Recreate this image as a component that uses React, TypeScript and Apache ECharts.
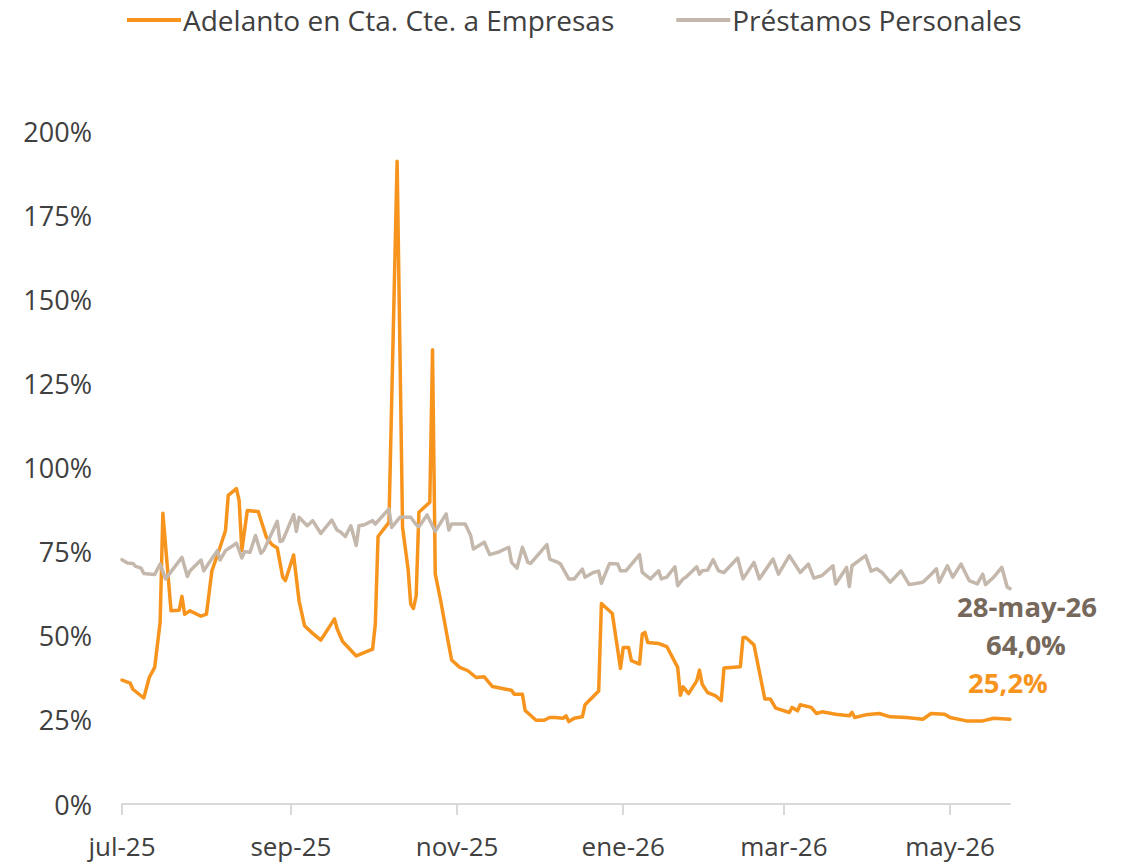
import React, { useEffect, useRef } from "react";
import * as echarts from "echarts";

// Daily calendar axis: 1-jul-25 .. last plotted day
const START = { y: 2025, m: 6, d: 1 };
const DAY_COUNT = 327;
const MESES = ["ene", "feb", "mar", "abr", "may", "jun", "jul", "ago", "sep", "oct", "nov", "dic"];
const TICK_MONTHS = [6, 8, 10, 0, 2, 4]; // jul, sep, nov, ene, mar, may

const SERIES_NAMES = ["Adelanto en Cta. Cte. a Empresas", "Préstamos Personales"];

// Adelanto en Cta. Cte. a Empresas: day offset from 1-jul-25, rate (%)
const adelantoDays = [
  0, 3, 4, 8, 10, 12, 14, 15, 18, 21, 22, 23, 25, 29, 31, 33, 36, 38, 39, 42, 43, 44, 46, 50, 53, 55, 57, 59, 60,
  63, 65, 67, 70, 73, 78, 79, 81, 86, 92, 93, 94, 98, 101, 103, 105, 106, 107, 108, 109, 113, 114, 115, 117, 119,
  121, 124, 127, 130, 133, 136, 141, 143, 144, 147, 148, 152, 155, 157, 159, 162, 163, 164, 166, 169, 170, 175,
  176, 180, 183, 184, 186, 187, 190, 191, 192, 193, 197, 200, 204, 205, 206, 208, 211, 212, 213, 215, 218, 220,
  221, 227, 228, 229, 232, 236, 238, 240, 245, 246, 248, 249, 253, 255, 257, 262, 267, 268, 269, 273, 278, 282,
  288, 294, 297, 302, 304, 310, 316, 320, 326,
];
const adelantoVals = [
  36.8, 35.9, 34.1, 31.5, 37.6, 40.6, 54.0, 86.4, 57.4, 57.6, 61.7, 56.4, 57.4, 55.8, 56.4, 69.3, 76.3, 81.3, 91.7,
  93.7, 90.2, 75.3, 87.2, 86.9, 79.3, 77.1, 76.1, 67.4, 66.4, 74.0, 60.4, 53.0, 50.7, 48.7, 55.0, 52.0, 48.3, 44.0,
  46.0, 53.5, 79.5, 83.7, 191.0, 82.2, 70.0, 59.4, 58.1, 61.9, 86.7, 89.7, 135.0, 68.4, 60.4, 51.5, 42.8, 40.6,
  39.6, 37.6, 37.8, 34.9, 34.1, 33.8, 32.6, 32.6, 27.8, 24.9, 24.9, 25.7, 25.7, 25.5, 26.2, 24.5, 25.5, 25.9,
  29.5, 33.6, 59.6, 56.6, 40.3, 46.5, 46.5, 42.6, 41.6, 50.5, 51.0, 48.0, 47.7, 46.8, 40.6, 32.3, 34.8, 32.8,
  36.6, 39.8, 35.6, 33.1, 32.1, 30.7, 40.4, 40.8, 49.5, 49.5, 47.3, 31.2, 31.2, 28.5, 27.2, 28.7, 27.7, 29.5,
  28.7, 26.9, 27.4, 26.7, 26.2, 27.2, 25.7, 26.5, 26.9, 25.9, 25.7, 25.2, 26.9, 26.7, 25.7, 24.7, 24.7, 25.5, 25.2,
];

// Préstamos Personales: day offset from 1-jul-25, rate (%)
const personalesDays = [
  0, 2, 4, 5, 7, 8, 12, 14, 16, 22, 24, 25, 29, 30, 35, 36, 38, 42, 44, 45, 47, 49, 51, 52, 57, 58, 59, 63, 64, 65,
  68, 70, 73, 77, 79, 80, 82, 84, 86, 87, 89, 92, 93, 98, 99, 102, 106, 108, 109, 112, 115, 119, 120, 121, 126,
  128, 129, 133, 135, 138, 142, 143, 145, 147, 149, 150, 156, 157, 160, 161, 164, 166, 169, 170, 173, 175, 176,
  179, 182, 183, 185, 190, 191, 194, 197, 198, 200, 203, 204, 206, 207, 211, 212, 213, 215, 217, 219, 221, 226,
  228, 232, 234, 239, 241, 245, 249, 252, 254, 257, 261, 262, 266, 267, 268, 273, 275, 277, 279, 282, 286, 289,
  294, 297, 299, 300, 303, 305, 308, 311, 314, 316, 317, 320, 323, 325, 326,
];
const personalesVals = [
  72.6, 71.6, 71.5, 70.6, 70.1, 68.5, 68.2, 71.3, 66.9, 73.3, 67.6, 69.3, 72.5, 69.3, 75.3, 72.5, 75.3, 77.5, 73.1,
  75.0, 74.8, 79.8, 74.5, 75.3, 84.0, 78.0, 78.3, 86.0, 81.0, 85.2, 82.7, 84.2, 80.4, 84.4, 81.3, 81.0, 79.5, 82.7,
  76.8, 82.7, 83.0, 84.2, 83.2, 87.7, 82.2, 85.2, 85.2, 83.0, 82.4, 85.9, 81.0, 86.2, 81.4, 83.2, 83.2, 79.8, 75.8,
  77.8, 74.1, 74.8, 76.3, 71.8, 70.1, 76.3, 71.8, 71.5, 77.1, 72.8, 71.8, 71.3, 66.9, 66.9, 69.8, 67.4, 68.8, 69.2,
  65.6, 71.5, 71.3, 69.3, 69.3, 74.1, 68.8, 66.9, 69.3, 66.9, 67.4, 70.5, 64.9, 66.9, 67.4, 70.5, 68.3, 69.3, 69.5,
  72.6, 69.3, 68.8, 73.1, 66.9, 71.8, 66.9, 72.8, 68.3, 73.8, 68.8, 71.3, 67.1, 67.9, 70.8, 65.4, 70.3, 64.6, 70.8,
  73.8, 69.2, 69.9, 68.8, 65.9, 69.3, 65.2, 65.9, 68.2, 69.9, 65.9, 70.8, 67.4, 71.3, 66.4, 65.4, 68.3, 65.2, 67.4,
  70.3, 64.4, 64.0,
];

const Y_MIN = 0;
const Y_MAX = 200;
const Y_STEP = 25;

const LAST_DATE_LABEL = "28-may-26";
const LAST_PERSONALES = "64,0%";
const LAST_ADELANTO = "25,2%";

const ORANGE = "#F7941D";
const TAUPE = "#C4B8AD";
const NOTE = "#76685B";
const FONT = "'Open Sans', 'Noto Sans', sans-serif";

function buildDates(): Date[] {
  const out: Date[] = [];
  for (let i = 0; i < DAY_COUNT; i++) out.push(new Date(Date.UTC(START.y, START.m, START.d + i)));
  return out;
}

function spread(days: number[], vals: number[]): (number | null)[] {
  const arr: (number | null)[] = new Array(DAY_COUNT).fill(null);
  days.forEach((d, i) => {
    arr[d] = vals[i];
  });
  return arr;
}

export default function App() {
  const ref = useRef<HTMLDivElement>(null);
  useEffect(() => {
    if (!ref.current) return;
    const chart = echarts.init(ref.current, null, { renderer: "svg" });
    const dates = buildDates();
    const cats = dates.map((d) => d.toISOString().slice(0, 10));
    const isTick = (idx: number) => {
      const d = dates[idx];
      return !!d && d.getUTCDate() === 1 && TICK_MONTHS.indexOf(d.getUTCMonth()) >= 0;
    };
    const fmt = (idx: number) => {
      const d = dates[idx];
      return `${MESES[d.getUTCMonth()]}-${String(d.getUTCFullYear()).slice(2)}`;
    };

    chart.setOption({
      animation: false,
      backgroundColor: "#ffffff",
      legend: {
        left: 122,
        top: 0,
        padding: [5, 5, 2, 5],
        itemWidth: 54,
        itemHeight: 4,
        itemGap: 62,
        icon: "rect",
        textStyle: {
          fontFamily: FONT,
          fontSize: 28,
          lineHeight: 30,
          color: "#404040",
          padding: [0, 0, 0, -3],
        },
        data: SERIES_NAMES,
      },
      grid: {
        left: 122,
        right: 122,
        top: 131,
        bottom: 62,
        containLabel: false,
        outerBoundsMode: "none",
      },
      xAxis: {
        type: "category",
        data: cats,
        boundaryGap: false,
        axisLine: { show: true, lineStyle: { color: "#D9D9D9", width: 2 } },
        axisTick: {
          show: true,
          length: 11,
          interval: (i: number) => isTick(i),
          lineStyle: { color: "#D9D9D9", width: 2 },
        },
        axisLabel: {
          interval: (i: number) => isTick(i),
          formatter: (_v: string, i: number) => fmt(i),
          margin: 28,
          fontFamily: FONT,
          fontSize: 26,
          lineHeight: 27,
          color: "#404040",
        },
        splitLine: { show: false },
      },
      yAxis: {
        type: "value",
        min: Y_MIN,
        max: Y_MAX,
        interval: Y_STEP,
        axisLine: { show: false },
        axisTick: { show: false },
        splitLine: { show: false },
        axisLabel: {
          formatter: (v: number) => `${v}%`,
          margin: 30,
          fontFamily: FONT,
          fontSize: 27,
          color: "#404040",
        },
      },
      series: [
        {
          name: SERIES_NAMES[0],
          type: "line",
          data: spread(adelantoDays, adelantoVals),
          connectNulls: true,
          showSymbol: false,
          symbol: "none",
          color: ORANGE,
          lineStyle: { color: ORANGE, width: 3.5, cap: "round", join: "round" },
          z: 2,
        },
        {
          name: SERIES_NAMES[1],
          type: "line",
          data: spread(personalesDays, personalesVals),
          connectNulls: true,
          showSymbol: false,
          symbol: "none",
          color: TAUPE,
          lineStyle: { color: TAUPE, width: 3.5, cap: "round", join: "round" },
          z: 3,
        },
      ],
      graphic: [
        {
          type: "text",
          x: 1027,
          y: 606,
          style: {
            text: LAST_DATE_LABEL,
            fill: NOTE,
            font: `bold 27.5px ${FONT}`,
            align: "center",
            verticalAlign: "middle",
          },
        },
        {
          type: "text",
          x: 1026,
          y: 644,
          style: {
            text: LAST_PERSONALES,
            fill: NOTE,
            font: `bold 27.5px ${FONT}`,
            align: "center",
            verticalAlign: "middle",
          },
        },
        {
          type: "text",
          x: 1008,
          y: 682,
          style: {
            text: LAST_ADELANTO,
            fill: ORANGE,
            font: `bold 27.5px ${FONT}`,
            align: "center",
            verticalAlign: "middle",
          },
        },
      ],
    });
    return () => chart.dispose();
  }, []);
  return (
    <div
      ref={ref}
      style={{ position: "fixed", left: 0, top: 0, width: 1132, height: 866, background: "#fff" }}
    />
  );
}
